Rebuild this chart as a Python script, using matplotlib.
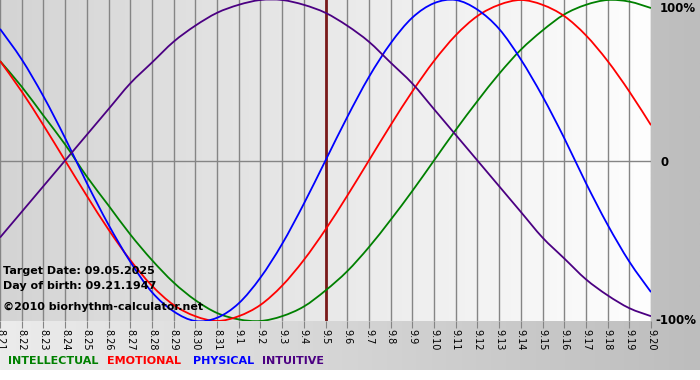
import numpy as np
import matplotlib.pyplot as plt
import matplotlib as mpl
from matplotlib.colors import LinearSegmentedColormap
from matplotlib.path import Path
from matplotlib.patches import PathPatch

mpl.rcParams['font.family'] = 'DejaVu Sans'

# Dates shown on the x axis (8.21 .. 9.20)
days = ['8.21', '8.22', '8.23', '8.24', '8.25', '8.26', '8.27', '8.28', '8.29', '8.30', '8.31',
        '9.1', '9.2', '9.3', '9.4', '9.5', '9.6', '9.7', '9.8', '9.9', '9.10',
        '9.11', '9.12', '9.13', '9.14', '9.15', '9.16', '9.17', '9.18', '9.19', '9.20']
target_day = '9.5'

# Cycle values per day (-1 .. 1)
physical = [0.82, 0.63, 0.40, 0.14, -0.14, -0.40, -0.63, -0.82, -0.94, -1.00, -0.98,
            -0.89, -0.73, -0.52, -0.27, 0.00, 0.27, 0.52, 0.73, 0.89, 0.98,
            1.00, 0.94, 0.82, 0.63, 0.40, 0.14, -0.14, -0.40, -0.63, -0.82]
emotional = [0.62, 0.43, 0.22, 0.00, -0.22, -0.43, -0.62, -0.78, -0.90, -0.97, -1.00,
             -0.97, -0.90, -0.78, -0.62, -0.43, -0.22, 0.00, 0.22, 0.43, 0.62,
             0.78, 0.90, 0.97, 1.00, 0.97, 0.90, 0.78, 0.62, 0.43, 0.22]
intellectual = [0.62, 0.46, 0.28, 0.10, -0.10, -0.28, -0.46, -0.62, -0.76, -0.87, -0.95,
                -0.99, -1.00, -0.97, -0.91, -0.81, -0.69, -0.54, -0.37, -0.19, 0.00,
                0.19, 0.37, 0.54, 0.69, 0.81, 0.91, 0.97, 1.00, 0.99, 0.95]
intuitive = [-0.48, -0.32, -0.16, 0.00, 0.16, 0.32, 0.48, 0.61, 0.74, 0.84, 0.92,
             0.97, 1.00, 1.00, 0.97, 0.92, 0.84, 0.74, 0.61, 0.48, 0.32,
             0.16, 0.00, -0.16, -0.32, -0.48, -0.61, -0.74, -0.84, -0.92, -0.97]


def smooth_path(xs, ys):
    # draw the daily values as a smooth curve (cubic Bezier segments through every point)
    pts = np.column_stack([xs, ys]).astype(float)
    ext = np.vstack([pts[0], pts, pts[-1]])
    verts = [pts[0]]
    codes = [Path.MOVETO]
    for i in range(len(pts) - 1):
        p0, p1, p2, p3 = ext[i], ext[i + 1], ext[i + 2], ext[i + 3]
        verts += [p1 + (p2 - p0) / 6, p2 - (p3 - p1) / 6, p2]
        codes += [Path.CURVE4] * 3
    return Path(verts, codes)


W, H = 700, 380
fig = plt.figure(figsize=(W / 100, H / 100), dpi=100)
fig.patch.set_facecolor('white')

# outer gradient background
bg = fig.add_axes([0, 10 / H, 1, 370 / H])
bg_cmap = LinearSegmentedColormap.from_list('bg', ['#ececec', '#bdbdbd'])
bg.imshow(np.linspace(0, 1, 256).reshape(1, -1), cmap=bg_cmap, aspect='auto',
          extent=[0, 1, 0, 1])
bg.set_axis_off()

# plot area
ax = fig.add_axes([0, 1 - 321 / H, 651 / W, 321 / H])
x = np.arange(len(days))
ax.set_xlim(0, len(days) - 1)
ax.set_ylim(-1, 1)
plot_cmap = LinearSegmentedColormap.from_list('plot', ['#d4d4d4', '#fefefe'])
ax.imshow(np.linspace(0, 1, 256).reshape(1, -1), cmap=plot_cmap, aspect='auto',
          extent=[0, len(days) - 1, -1, 1], zorder=0)

for xi in x:
    ax.axvline(xi, color='#858585', lw=1, zorder=1)
ax.axhline(0, color='#858585', lw=1, zorder=1)
ax.axvline(days.index(target_day), color='#7a1a1a', lw=2, zorder=2)

series = [(intellectual, '#008000'), (emotional, '#ff0000'),
          (physical, '#0000ff'), (intuitive, '#4b0082')]
for vals, c in series:
    ax.add_patch(PathPatch(smooth_path(x, vals), facecolor='none', edgecolor=c,
                           lw=1.3, zorder=3, clip_on=True))

for s in ax.spines.values():
    s.set_visible(False)
ax.set_yticks([])
ax.set_xticks(x)
ax.set_xticklabels(days, rotation=270, fontsize=7)
ax.tick_params(axis='x', length=5, color='#858585', pad=1)

# right-hand percentage labels
ax.text(1.014, 0.975, '100%', transform=ax.transAxes, fontsize=8.5, weight='bold',
        va='center', ha='left')
ax.text(1.014, 0.495, '0', transform=ax.transAxes, fontsize=8.5, weight='bold',
        va='center', ha='left')
ax.text(1.006, 0.0, '-100%', transform=ax.transAxes, fontsize=8.5, weight='bold',
        va='center', ha='left')

# info text
ax.text(3 / 651, 1 - 271 / 321, 'Target Date: 09.05.2025', transform=ax.transAxes,
        fontsize=8, weight='bold', va='center', zorder=4)
ax.text(3 / 651, 1 - 286 / 321, 'Day of birth: 09.21.1947', transform=ax.transAxes,
        fontsize=8, weight='bold', va='center', zorder=4)
ax.text(3 / 651, 1 - 307 / 321, '\u00a92010 biorhythm-calculator.net', transform=ax.transAxes,
        fontsize=8, weight='bold', va='center', zorder=4)

# legend words
legend_words = ['INTELLECTUAL', 'EMOTIONAL', 'PHYSICAL', 'INTUITIVE']
legend_colors = ['#008000', '#ff0000', '#0000ff', '#4b0082']
legend_x = [8, 107, 193, 262]
for word, c, lx in zip(legend_words, legend_colors, legend_x):
    fig.text(lx / W, 1 - 361 / H, word, color=c, fontsize=8, weight='bold', va='center')

fig.savefig('out.png', dpi=100)
